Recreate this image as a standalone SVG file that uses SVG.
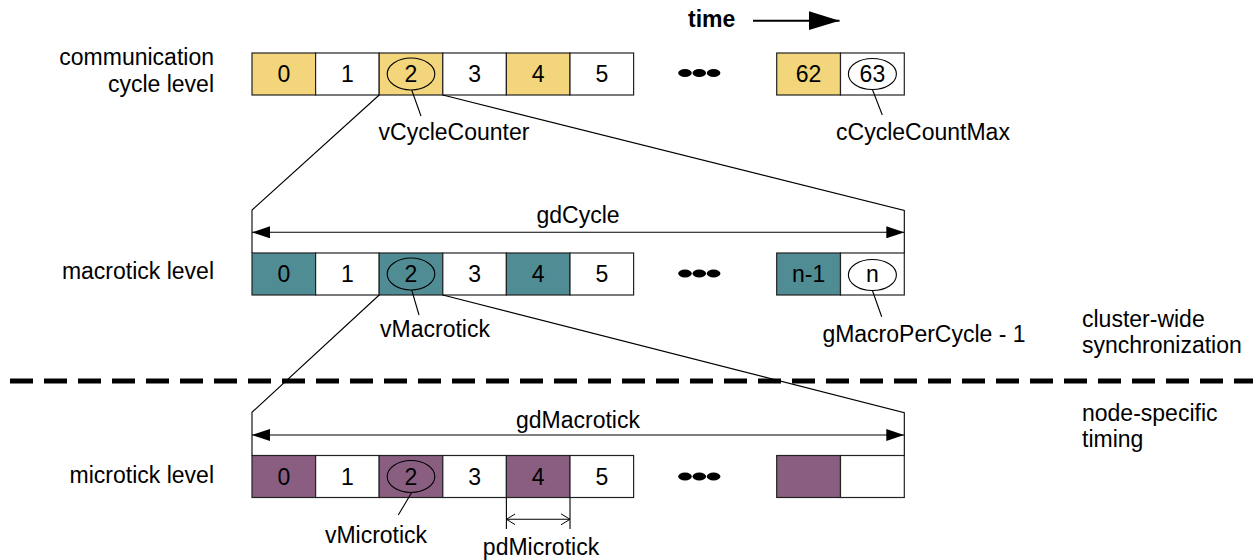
<svg xmlns="http://www.w3.org/2000/svg" width="1259" height="560" viewBox="0 0 1259 560">
<defs>
<style>
text{font-family:"Liberation Sans",Arial,sans-serif;font-size:23px;fill:#000}
.c{text-anchor:middle}
.r{text-anchor:end}
.box{stroke:#222;stroke-width:1.2}
.y{fill:#F3D67B}
.t{fill:#508C94}
.p{fill:#895E80}
.w{fill:#fff}
.ell{fill:none;stroke:#000;stroke-width:1.1}
.ln{stroke:#000;stroke-width:1.1;fill:none}
.dots{fill:#000}
</style>
<marker id="arrF" markerWidth="18" markerHeight="12" refX="18" refY="6" orient="auto-start-reverse" markerUnits="userSpaceOnUse"><path d="M0,0 L18,6 L0,12 z" fill="#000"/></marker>
<marker id="arrO" markerWidth="9" markerHeight="12" refX="9" refY="6" orient="auto-start-reverse" markerUnits="userSpaceOnUse"><path d="M0,0.5 L9,6 L0,11.5" fill="none" stroke="#000" stroke-width="1"/></marker>
<marker id="arrT" markerWidth="32" markerHeight="20" refX="31" refY="10" orient="auto" markerUnits="userSpaceOnUse"><path d="M0,0.5 L31,10 L0,19.5 z" fill="#000"/></marker>
</defs>
<rect width="1259" height="560" fill="#fff"/>

<!-- labels -->
<g id="labels">
<text class="r" x="214" y="65">communication</text>
<text class="r" x="214" y="92">cycle level</text>
<text class="r" x="214" y="279">macrotick level</text>
<text class="r" x="214" y="483">microtick level</text>
<text x="1082" y="327">cluster-wide</text>
<text x="1082" y="353">synchronization</text>
<text x="1082" y="421">node-specific</text>
<text x="1082" y="447">timing</text>
<text x="688" y="27" style="font-weight:bold">time</text>
</g>

<!-- communication cycle row -->
<g id="cycle-row">
<g id="cyc0"><rect class="box y" x="252" y="53" width="63.6" height="42"/><text class="c" x="283.8" y="82">0</text></g>
<g id="cyc1"><rect class="box w" x="315.6" y="53" width="63.6" height="42"/><text class="c" x="347.4" y="82">1</text></g>
<g id="cyc2"><rect class="box y" x="379.2" y="53" width="63.6" height="42"/><text class="c" x="411" y="82">2</text><ellipse class="ell" cx="411" cy="74" rx="23.8" ry="16"/></g>
<g id="cyc3"><rect class="box w" x="442.8" y="53" width="63.6" height="42"/><text class="c" x="474.6" y="82">3</text></g>
<g id="cyc4"><rect class="box y" x="506.4" y="53" width="63.6" height="42"/><text class="c" x="538.2" y="82">4</text></g>
<g id="cyc5"><rect class="box w" x="570" y="53" width="63.6" height="42"/><text class="c" x="601.8" y="82">5</text></g>
<g id="cyc-dots"><ellipse class="dots" cx="685" cy="73" rx="6.8" ry="4"/><ellipse class="dots" cx="699.3" cy="73" rx="6.8" ry="4"/><ellipse class="dots" cx="713.6" cy="73" rx="6.8" ry="4"/></g>
<g id="cyc62"><rect class="box y" x="776.7" y="53" width="63.8" height="42"/><text class="c" x="808.6" y="82">62</text></g>
<g id="cyc63"><rect class="box w" x="840.5" y="53" width="63.8" height="42"/><text class="c" x="872.4" y="82">63</text><ellipse class="ell" cx="872.4" cy="74" rx="24" ry="15.5"/></g>
<text id="lbl-vCycleCounter" class="c" x="454" y="140">vCycleCounter</text>
<text id="lbl-cCycleCountMax" class="c" x="923" y="140">cCycleCountMax</text>
</g>

<!-- macrotick row -->
<g id="macro-row">
<g id="mac0"><rect class="box t" x="252" y="253" width="63.6" height="42"/><text class="c" x="283.8" y="282">0</text></g>
<g id="mac1"><rect class="box w" x="315.6" y="253" width="63.6" height="42"/><text class="c" x="347.4" y="282">1</text></g>
<g id="mac2"><rect class="box t" x="379.2" y="253" width="63.6" height="42"/><text class="c" x="411" y="282">2</text><ellipse class="ell" cx="411" cy="274" rx="23.8" ry="16"/></g>
<g id="mac3"><rect class="box w" x="442.8" y="253" width="63.6" height="42"/><text class="c" x="474.6" y="282">3</text></g>
<g id="mac4"><rect class="box t" x="506.4" y="253" width="63.6" height="42"/><text class="c" x="538.2" y="282">4</text></g>
<g id="mac5"><rect class="box w" x="570" y="253" width="63.6" height="42"/><text class="c" x="601.8" y="282">5</text></g>
<g id="mac-dots"><ellipse class="dots" cx="685" cy="273.5" rx="6.8" ry="4"/><ellipse class="dots" cx="699.3" cy="273.5" rx="6.8" ry="4"/><ellipse class="dots" cx="713.6" cy="273.5" rx="6.8" ry="4"/></g>
<g id="macn1"><rect class="box t" x="776.7" y="253" width="63.8" height="42"/><text class="c" x="808.6" y="282">n-1</text></g>
<g id="macn"><rect class="box w" x="840.5" y="253" width="63.8" height="42"/><text class="c" x="872.4" y="282">n</text><ellipse class="ell" cx="872.4" cy="275" rx="24" ry="15.5"/></g>
<text id="lbl-gdCycle" class="c" x="578" y="223">gdCycle</text>
<text id="lbl-vMacrotick" class="c" x="435" y="337">vMacrotick</text>
<text id="lbl-gMacroPerCycle" class="c" x="924" y="342">gMacroPerCycle - 1</text>
</g>

<!-- microtick row -->
<g id="micro-row">
<g id="mic0"><rect class="box p" x="252" y="455.5" width="63.6" height="42"/><text class="c" x="283.8" y="484.5">0</text></g>
<g id="mic1"><rect class="box w" x="315.6" y="455.5" width="63.6" height="42"/><text class="c" x="347.4" y="484.5">1</text></g>
<g id="mic2"><rect class="box p" x="379.2" y="455.5" width="63.6" height="42"/><text class="c" x="411" y="484.5">2</text><ellipse class="ell" cx="411" cy="476.5" rx="23.8" ry="16"/></g>
<g id="mic3"><rect class="box w" x="442.8" y="455.5" width="63.6" height="42"/><text class="c" x="474.6" y="484.5">3</text></g>
<g id="mic4"><rect class="box p" x="506.4" y="455.5" width="63.6" height="42"/><text class="c" x="538.2" y="484.5">4</text></g>
<g id="mic5"><rect class="box w" x="570" y="455.5" width="63.6" height="42"/><text class="c" x="601.8" y="484.5">5</text></g>
<g id="mic-dots"><ellipse class="dots" cx="685" cy="476.5" rx="6.8" ry="4"/><ellipse class="dots" cx="699.3" cy="476.5" rx="6.8" ry="4"/><ellipse class="dots" cx="713.6" cy="476.5" rx="6.8" ry="4"/></g>
<g id="micA"><rect class="box p" x="776.7" y="455.5" width="63.8" height="42"/></g>
<g id="micB"><rect class="box w" x="840.5" y="455.5" width="63.8" height="42"/></g>
<text id="lbl-gdMacrotick" class="c" x="578" y="428">gdMacrotick</text>
<text id="lbl-vMicrotick" class="c" x="376" y="543">vMicrotick</text>
<text id="lbl-pdMicrotick" class="c" x="541" y="555">pdMicrotick</text>
</g>

<!-- connectors -->
<g id="connectors">
<line x1="753" y1="20.7" x2="839.5" y2="20.7" stroke="#000" stroke-width="2" marker-end="url(#arrT)"/>
<line class="ln" x1="411.7" y1="90" x2="421" y2="116"/>
<line class="ln" x1="872.4" y1="89.5" x2="882.3" y2="115"/>
<line class="ln" x1="411.7" y1="290" x2="419" y2="315"/>
<line class="ln" x1="872.4" y1="290.5" x2="881.7" y2="316.7"/>
<line class="ln" x1="411.7" y1="492.5" x2="398.3" y2="515"/>
<polyline class="ln" points="379.2,95 252,210 252,253"/>
<polyline class="ln" points="442.8,95 904.3,210.5 904.3,253"/>
<line class="ln" x1="252" y1="232.3" x2="904.3" y2="232.3" marker-start="url(#arrF)" marker-end="url(#arrF)"/>
<polyline class="ln" points="379.2,295 252,412.3 252,455.5"/>
<polyline class="ln" points="442.8,295 904.3,412.7 904.3,455.5"/>
<line class="ln" x1="252" y1="435" x2="904.3" y2="435" marker-start="url(#arrF)" marker-end="url(#arrF)"/>
<line class="ln" x1="506.4" y1="497.5" x2="506.4" y2="529"/>
<line class="ln" x1="570" y1="497.5" x2="570" y2="529"/>
<line class="ln" x1="506.4" y1="519.3" x2="570" y2="519.3" marker-start="url(#arrO)" marker-end="url(#arrO)"/>
</g>

<!-- separator -->
<line id="separator" x1="10" y1="381" x2="1253" y2="381" stroke="#000" stroke-width="5" stroke-dasharray="23 11"/>
</svg>
